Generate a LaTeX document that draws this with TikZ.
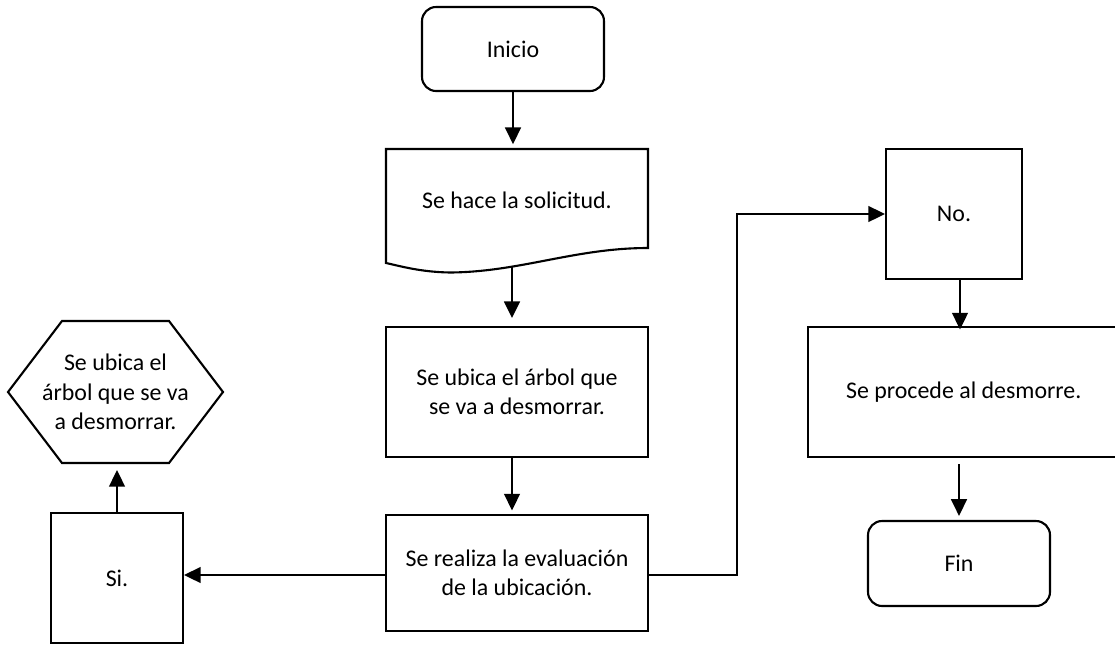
\documentclass[tikz,border=0pt]{standalone}
\usepackage{fontspec}
\setmainfont{Carlito}
\usetikzlibrary{arrows.meta}

\tikzset{
  linea/.style={line width=1.2pt},
  proceso/.style={linea, draw, align=center, inner sep=0pt},
  terminal/.style={proceso, rounded corners=0.28cm, minimum width=3.64cm},
  flecha/.style={linea, -{Triangle[length=9.5pt,width=9pt]}}
}

\begin{document}
\begin{tikzpicture}[x=0.02cm, y=-0.02cm, font=\fontsize{13.6}{16.7}\selectfont]
\useasboundingbox (0,0) rectangle (1115,646);
% columna central
\node[terminal, minimum height=1.68cm] (inicio) at (513,49) {Inicio};
\node[align=center, minimum width=5.24cm, minimum height=1.98cm, inner sep=0pt] (solic) at (517,200) {Se hace la solicitud.};
\draw[linea] (386,149) -- (648,149) -- (648,248)
  .. controls (575,248) and (520,272) .. (450,272.5)
  .. controls (420,272) and (400,266) .. (386,263) -- cycle;
\coordinate (onda) at (512,266);
\node[proceso, minimum width=5.24cm, minimum height=2.6cm] (ubica) at (517,392) {Se ubica el árbol que\\se va a desmorrar.};
\node[proceso, minimum width=5.24cm, minimum height=2.32cm] (evalua) at (517,573) {Se realiza la evaluación\\de la ubicación.};
% rama izquierda
\node[proceso, minimum width=2.64cm, minimum height=2.6cm] (si) at (117,578) {Si.};
\node[align=center] (hexa) at (115.5,392) {Se ubica el\\árbol que se va\\a desmorrar.};
\draw[linea] (hexa.center) +(-53.5,-71) -- +(53.5,-71) -- +(107.5,0) -- +(53.5,71) -- +(-53.5,71) -- +(-107.5,0) -- cycle;
\coordinate (hexabajo) at (115.5,463);
% rama derecha
\node[proceso, minimum width=2.72cm, minimum height=2.6cm] (no) at (954,214) {No.};
\node[proceso, minimum width=6.3cm, minimum height=2.6cm] (procede) at (965.5,392) {\hspace*{-0.07cm}Se procede al desmorre.};
\node[terminal, minimum height=1.7cm] (fin) at (959,563.5) {Fin};
%
\draw[flecha, shorten >=3.4pt] (inicio.south) -- (inicio.south |- solic.north);
\draw[flecha, shorten >=4.5pt] (onda) -- (onda |- ubica.north);
\draw[flecha, shorten >=2pt] (onda |- ubica.south) -- (onda |- evalua.north);
\draw[flecha] ([yshift=-0.04cm]evalua.west) -- ([yshift=-0.04cm]evalua.west -| si.east);
\draw[flecha, shorten >=4pt] (si.north) -- (si.north |- hexabajo);
\draw[flecha] ([yshift=-0.04cm]evalua.east) -- ++(88,0) |- (no.west);
\draw[flecha, shorten >=-2pt] ([xshift=0.12cm]no.south) -- ([xshift=0.12cm]no.south |- procede.north);
\draw[flecha, shorten <=3.4pt, shorten >=2.3pt] (fin.north |- procede.south) -- (fin.north);
\end{tikzpicture}
\end{document}
